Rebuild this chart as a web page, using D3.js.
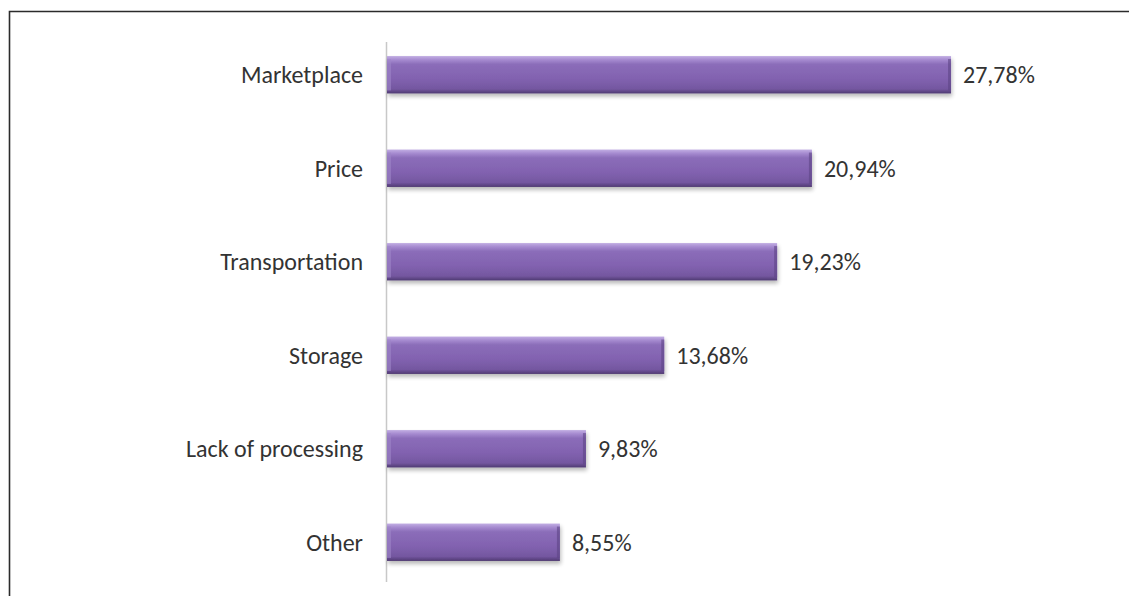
<!DOCTYPE html>
<html>
<head>
<meta charset="utf-8">
<script src="https://cdn.jsdelivr.net/npm/d3@7"></script>
<style>
  html, body { margin: 0; padding: 0; background: #fff; }
  svg { display: block; }
</style>
</head>
<body>
<svg id="chart" width="1129" height="596"></svg>
<script>
// Share of respondents by issue
const categories = ["Marketplace", "Price", "Transportation", "Storage", "Lack of processing", "Other"];
const values = [27.78, 20.94, 19.23, 13.68, 9.83, 8.55];
const valueLabels = ["27,78%", "20,94%", "19,23%", "13,68%", "9,83%", "8,55%"];

const svg = d3.select("#chart");
const W = 1129, H = 596;
const axisX = 386;
const FONT = "Carlito, Lato, 'Open Sans', sans-serif";

// Outer frame (top and left edges)
svg.append("path")
  .attr("d", `M9.5,${H} L9.5,11.5 L${W},11.5`)
  .attr("fill", "none")
  .attr("stroke", "#2b2b2b")
  .attr("stroke-width", 1.6);

const y = d3.scaleBand()
  .domain(categories)
  .range([28, 589])
  .paddingInner(0.6)
  .paddingOuter(0.3);

const x = d3.scaleLinear()
  .domain([0, 30])
  .range([axisX, axisX + 610.2]);

const defs = svg.append("defs");
const grad = defs.append("linearGradient")
  .attr("id", "barFill").attr("x1", 0).attr("y1", 0).attr("x2", 0).attr("y2", 1);
[["0%", "#c2aee3"], ["10%", "#a68bd0"], ["22%", "#8b6db9"], ["60%", "#8262b0"], ["88%", "#7457a0"], ["100%", "#4f3a72"]]
  .forEach(([o, c]) => grad.append("stop").attr("offset", o).attr("stop-color", c));

const shadow = defs.append("filter").attr("id", "shadow")
  .attr("x", "-5%").attr("y", "-20%").attr("width", "110%").attr("height", "160%");
shadow.append("feGaussianBlur").attr("in", "SourceAlpha").attr("stdDeviation", 2.2).attr("result", "b");
shadow.append("feOffset").attr("in", "b").attr("dx", 1).attr("dy", 3).attr("result", "o");
shadow.append("feComponentTransfer").attr("in", "o").attr("result", "s")
  .append("feFuncA").attr("type", "linear").attr("slope", 0.28);
const merge = shadow.append("feMerge");
merge.append("feMergeNode").attr("in", "s");
merge.append("feMergeNode").attr("in", "SourceGraphic");

// Category axis line
svg.append("line")
  .attr("x1", axisX + 0.5).attr("x2", axisX + 0.5)
  .attr("y1", 42).attr("y2", 582)
  .attr("stroke", "#c8c8c8").attr("stroke-width", 1.5);

const rows = categories.map((c, i) => ({ c, v: values[i], label: valueLabels[i] }));

const g = svg.append("g");
const bar = g.selectAll("g.bar").data(rows).join("g").attr("class", "bar");

bar.append("rect")
  .attr("x", axisX + 1)
  .attr("y", d => y(d.c))
  .attr("width", d => x(d.v) - axisX - 1)
  .attr("height", y.bandwidth())
  .attr("fill", "url(#barFill)")
  .attr("filter", "url(#shadow)");

// Bevel highlights: left and right edges
bar.append("rect")
  .attr("x", axisX + 1)
  .attr("y", d => y(d.c) + 3)
  .attr("width", 4)
  .attr("height", y.bandwidth() - 6)
  .attr("fill", "#9e85c8").attr("opacity", 0.6);
bar.append("rect")
  .attr("x", d => x(d.v) - 3)
  .attr("y", d => y(d.c) + 3)
  .attr("width", 3)
  .attr("height", y.bandwidth() - 6)
  .attr("fill", "#5d4585").attr("opacity", 0.6);

// Category labels
bar.append("text")
  .attr("x", 363)
  .attr("y", d => y(d.c) + y.bandwidth() / 2)
  .attr("dy", "0.36em")
  .attr("text-anchor", "end")
  .attr("font-family", FONT)
  .attr("font-size", 24)
  .attr("fill", "#333")
  .text(d => d.c);

// Value labels
bar.append("text")
  .attr("x", d => x(d.v) + 12)
  .attr("y", d => y(d.c) + y.bandwidth() / 2)
  .attr("dy", "0.36em")
  .attr("font-family", FONT)
  .attr("font-size", 24)
  .attr("fill", "#333")
  .text(d => d.label);
</script>
</body>
</html>
